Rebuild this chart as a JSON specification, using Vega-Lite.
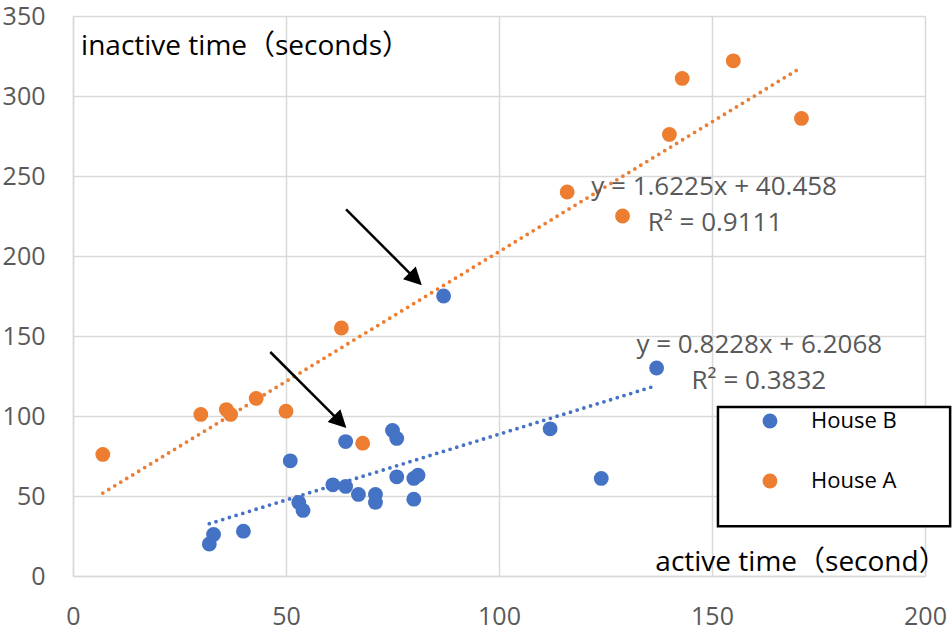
{
  "$schema": "https://vega.github.io/schema/vega-lite/v6.json",
  "width": 852,
  "height": 560,
  "autosize": "none",
  "padding": {"left": 73, "top": 16, "right": 27, "bottom": 57},
  "datasets": {
    "points": [
      {"house": "House A", "active": 7, "inactive": 76},
      {"house": "House A", "active": 30, "inactive": 101},
      {"house": "House A", "active": 36, "inactive": 104},
      {"house": "House A", "active": 37, "inactive": 101},
      {"house": "House A", "active": 43, "inactive": 111},
      {"house": "House A", "active": 50, "inactive": 103},
      {"house": "House A", "active": 63, "inactive": 155},
      {"house": "House A", "active": 68, "inactive": 83},
      {"house": "House A", "active": 116, "inactive": 240},
      {"house": "House A", "active": 129, "inactive": 225},
      {"house": "House A", "active": 140, "inactive": 276},
      {"house": "House A", "active": 143, "inactive": 311},
      {"house": "House A", "active": 155, "inactive": 322},
      {"house": "House A", "active": 171, "inactive": 286},
      {"house": "House B", "active": 32, "inactive": 20},
      {"house": "House B", "active": 33, "inactive": 26},
      {"house": "House B", "active": 40, "inactive": 28},
      {"house": "House B", "active": 51, "inactive": 72},
      {"house": "House B", "active": 53, "inactive": 46},
      {"house": "House B", "active": 54, "inactive": 41},
      {"house": "House B", "active": 61, "inactive": 57},
      {"house": "House B", "active": 64, "inactive": 84},
      {"house": "House B", "active": 64, "inactive": 56},
      {"house": "House B", "active": 67, "inactive": 51},
      {"house": "House B", "active": 71, "inactive": 51},
      {"house": "House B", "active": 71, "inactive": 46},
      {"house": "House B", "active": 75, "inactive": 91},
      {"house": "House B", "active": 76, "inactive": 86},
      {"house": "House B", "active": 76, "inactive": 62},
      {"house": "House B", "active": 80, "inactive": 61},
      {"house": "House B", "active": 81, "inactive": 63},
      {"house": "House B", "active": 80, "inactive": 48},
      {"house": "House B", "active": 87, "inactive": 175},
      {"house": "House B", "active": 112, "inactive": 92},
      {"house": "House B", "active": 124, "inactive": 61},
      {"house": "House B", "active": 137, "inactive": 130}
    ],
    "equations": [
      {"label": "y = 1.6225x + 40.458", "x": 150.5, "y": 238.4},
      {"label": "R² = 0.9111", "x": 150.7, "y": 215.6},
      {"label": "y = 0.8228x + 6.2068", "x": 161.1, "y": 139.6},
      {"label": "R² = 0.3832", "x": 161.0, "y": 117.1}
    ],
    "titles": [
      {"label": "inactive time（seconds）", "x": 1.9, "y": 325.4},
      {"label": "active time（second）", "x": 136.7, "y": 3.1}
    ],
    "arrows": [
      {"x": 64.1, "y": 229.2, "x2": 80.3, "y2": 185.9},
      {"x": 46.3, "y": 140, "x2": 62.6, "y2": 96.7}
    ],
    "box": [
      {"x": 151.4, "x2": 205.9, "y": 31.1, "y2": 105.6}
    ]
  },
  "layer": [
    {
      "data": {"name": "points"},
      "transform": [
        {"filter": "datum.house === 'House A'"},
        {"regression": "inactive", "on": "active"}
      ],
      "mark": {"type": "line", "color": "#ED7D31", "strokeWidth": 3.8, "strokeDash": [0, 7], "strokeCap": "round"},
      "encoding": {
        "x": {"field": "active", "type": "quantitative"},
        "y": {"field": "inactive", "type": "quantitative"}
      }
    },
    {
      "data": {"name": "points"},
      "transform": [
        {"filter": "datum.house === 'House B'"},
        {"regression": "inactive", "on": "active"}
      ],
      "mark": {"type": "line", "color": "#4472C4", "strokeWidth": 3.8, "strokeDash": [0, 7], "strokeCap": "round"},
      "encoding": {
        "x": {"field": "active", "type": "quantitative"},
        "y": {"field": "inactive", "type": "quantitative"}
      }
    },
    {
      "data": {"name": "points"},
      "mark": {"type": "circle", "size": 220, "opacity": 1},
      "encoding": {
        "x": {
          "field": "active",
          "type": "quantitative",
          "scale": {"domain": [0, 200], "nice": false},
          "axis": {"values": [0, 50, 100, 150, 200], "labelPadding": 28, "labelFlush": false}
        },
        "y": {
          "field": "inactive",
          "type": "quantitative",
          "scale": {"domain": [0, 350], "nice": false},
          "axis": {"values": [0, 50, 100, 150, 200, 250, 300, 350], "labelPadding": 28, "labelFlush": false}
        },
        "color": {
          "field": "house",
          "type": "nominal",
          "scale": {"domain": ["House B", "House A"], "range": ["#4472C4", "#ED7D31"]},
          "legend": {
            "orient": "none",
            "legendX": 686,
            "legendY": 394,
            "title": null,
            "padding": 0,
            "symbolType": "circle",
            "symbolSize": 220,
            "symbolOpacity": 1,
            "labelFont": "Open Sans",
            "labelFontSize": 22,
            "labelColor": "#000000",
            "labelOffset": 30,
            "rowPadding": 38
          }
        }
      }
    },
    {
      "data": {"name": "equations"},
      "mark": {"type": "text", "font": "Open Sans", "fontSize": 26, "color": "#595959", "align": "center", "baseline": "alphabetic"},
      "encoding": {
        "x": {"field": "x", "type": "quantitative"},
        "y": {"field": "y", "type": "quantitative"},
        "text": {"field": "label"}
      }
    },
    {
      "data": {"name": "titles"},
      "mark": {"type": "text", "font": "Open Sans, Noto Sans CJK JP", "fontSize": 28, "color": "#000000", "align": "left", "baseline": "alphabetic"},
      "encoding": {
        "x": {"field": "x", "type": "quantitative"},
        "y": {"field": "y", "type": "quantitative"},
        "text": {"field": "label"}
      }
    },
    {
      "data": {"name": "arrows"},
      "mark": {"type": "rule", "color": "#000000", "strokeWidth": 2.5},
      "encoding": {
        "x": {"field": "x", "type": "quantitative"},
        "y": {"field": "y", "type": "quantitative"},
        "x2": {"field": "x2"},
        "y2": {"field": "y2"}
      }
    },
    {
      "data": {"name": "arrows"},
      "mark": {"type": "point", "shape": "M0,-1L0.95,0.85L-0.95,0.85Z", "size": 360, "angle": 135, "filled": true, "color": "#000000", "opacity": 1},
      "encoding": {
        "x": {"field": "x2", "type": "quantitative"},
        "y": {"field": "y2", "type": "quantitative"}
      }
    },
    {
      "data": {"name": "box"},
      "mark": {"type": "rect", "fill": "#ffffff", "stroke": "#000000", "strokeWidth": 2.5},
      "encoding": {
        "x": {"field": "x", "type": "quantitative"},
        "x2": {"field": "x2"},
        "y": {"field": "y", "type": "quantitative"},
        "y2": {"field": "y2"}
      }
    }
  ],
  "config": {
    "view": {"stroke": null},
    "axis": {
      "title": null,
      "labelFont": "Open Sans",
      "labelFontSize": 25,
      "labelColor": "#595959",
      "grid": true,
      "gridColor": "#d9d9d9",
      "gridWidth": 1.5,
      "domainColor": "#d9d9d9",
      "domainWidth": 1.5,
      "ticks": false,
      "tickSize": 0
    }
  }
}
